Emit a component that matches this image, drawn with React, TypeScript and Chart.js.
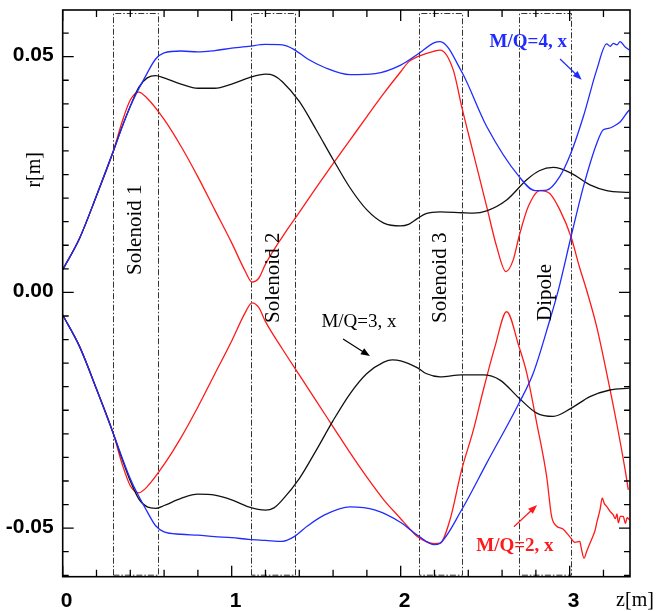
import { useEffect, useRef } from 'react';
import { Chart, registerables } from 'chart.js';

Chart.register(...registerables);

// ---------- data (z in m, r in m) ----------
const zBlueUp = [0, 0.1, 0.2, 0.3, 0.4, 0.5, 0.55, 0.6, 0.7, 0.8, 0.9, 1.0, 1.1, 1.2, 1.3, 1.37, 1.45, 1.55, 1.7, 1.85, 2.0, 2.1, 2.2, 2.233, 2.361, 2.509, 2.7, 2.795, 2.864, 2.942, 3.007, 3.081, 3.16, 3.219, 3.24, 3.258, 3.28, 3.298, 3.327, 3.353];
const rBlueUp = [0.0048, 0.0115, 0.0205, 0.03, 0.0395, 0.0465, 0.0495, 0.0508, 0.0512, 0.051, 0.0513, 0.0518, 0.0522, 0.0526, 0.0525, 0.0515, 0.0495, 0.0477, 0.0462, 0.0464, 0.0482, 0.0505, 0.053, 0.0532, 0.0468, 0.0352, 0.0246, 0.0216, 0.0217, 0.0246, 0.0295, 0.0373, 0.0472, 0.0527, 0.0522, 0.0528, 0.0525, 0.0532, 0.0521, 0.0514];

const zBlueLo = [0, 0.1, 0.2, 0.3, 0.4, 0.5, 0.55, 0.6, 0.7, 0.8, 0.9, 1.0, 1.1, 1.2, 1.3, 1.37, 1.45, 1.55, 1.7, 1.85, 2.0, 2.1, 2.2, 2.233, 2.361, 2.509, 2.7, 2.785, 2.883, 2.933, 3.008, 3.081, 3.16, 3.199, 3.23, 3.258, 3.3, 3.337, 3.353];
const rBlueLo = [-0.0048, -0.0115, -0.0205, -0.03, -0.0395, -0.0465, -0.0495, -0.0508, -0.0513, -0.0515, -0.0518, -0.052, -0.0524, -0.0526, -0.0528, -0.0518, -0.0495, -0.0472, -0.0455, -0.0462, -0.0488, -0.0515, -0.0535, -0.0532, -0.0461, -0.0362, -0.0235, -0.0171, -0.0058, 0.0005, 0.0118, 0.0224, 0.0316, 0.0345, 0.0348, 0.0352, 0.0362, 0.038, 0.0387];

const zBlackUp = [0, 0.1, 0.2, 0.3, 0.35, 0.4, 0.45, 0.5, 0.55, 0.6, 0.7, 0.8, 0.9, 1.0, 1.1, 1.2, 1.25, 1.3, 1.4, 1.5, 1.6, 1.7, 1.8, 1.9, 2.0, 2.05, 2.1, 2.15, 2.233, 2.361, 2.43, 2.509, 2.627, 2.746, 2.82, 2.903, 3.008, 3.12, 3.219, 3.353];
const rBlackUp = [0.0048, 0.0115, 0.0205, 0.03, 0.035, 0.0395, 0.0435, 0.0455, 0.046, 0.0455, 0.0442, 0.0433, 0.0433, 0.0442, 0.0455, 0.0463, 0.046, 0.0447, 0.0405, 0.0345, 0.0282, 0.0222, 0.0175, 0.0147, 0.0141, 0.0145, 0.0157, 0.0167, 0.0171, 0.0169, 0.0168, 0.0173, 0.0196, 0.0239, 0.0258, 0.0265, 0.0253, 0.0228, 0.0216, 0.0212];

const zBlackLo = [0, 0.1, 0.2, 0.3, 0.35, 0.4, 0.45, 0.5, 0.55, 0.6, 0.7, 0.8, 0.9, 1.0, 1.1, 1.2, 1.25, 1.3, 1.4, 1.5, 1.6, 1.7, 1.8, 1.9, 1.95, 2.0, 2.1, 2.15, 2.233, 2.361, 2.489, 2.588, 2.7, 2.805, 2.903, 3.008, 3.12, 3.238, 3.353];
const rBlackLo = [-0.0048, -0.0115, -0.0205, -0.03, -0.0352, -0.04, -0.0438, -0.0455, -0.0458, -0.0452, -0.0437, -0.0428, -0.043, -0.044, -0.0455, -0.0462, -0.0457, -0.044, -0.0395, -0.0335, -0.0272, -0.0215, -0.0172, -0.0148, -0.0143, -0.0145, -0.016, -0.0172, -0.0179, -0.0175, -0.0175, -0.0186, -0.0224, -0.0256, -0.0263, -0.0246, -0.0221, -0.0207, -0.0203];

const zRedUp = [0, 0.1, 0.2, 0.3, 0.35, 0.4, 0.45, 0.5, 0.6, 0.7, 0.8, 0.9, 1.0, 1.08, 1.12, 1.16, 1.2, 1.3, 1.4, 1.5, 1.6, 1.7, 1.8, 1.9, 2.0, 2.05, 2.1, 2.2, 2.233, 2.311, 2.361, 2.43, 2.509, 2.568, 2.623, 2.666, 2.7, 2.755, 2.824, 2.882, 2.942, 3.008, 3.057, 3.1, 3.16, 3.219, 3.278, 3.328, 3.347];
const rRedUp = [0.0048, 0.0115, 0.0205, 0.03, 0.036, 0.0408, 0.0425, 0.0412, 0.0367, 0.031, 0.0245, 0.0175, 0.0105, 0.0045, 0.0022, 0.003, 0.006, 0.0118, 0.017, 0.0222, 0.0273, 0.0323, 0.0373, 0.0422, 0.0468, 0.049, 0.05, 0.0512, 0.0514, 0.0472, 0.0394, 0.0295, 0.0182, 0.0097, 0.0044, 0.0069, 0.0118, 0.0182, 0.0216, 0.021, 0.0175, 0.0118, 0.0055, 0.0005, -0.0073, -0.0171, -0.0277, -0.0376, -0.0419];

const zRedLo = [0, 0.1, 0.2, 0.3, 0.35, 0.4, 0.45, 0.5, 0.6, 0.7, 0.8, 0.9, 1.0, 1.08, 1.12, 1.16, 1.2, 1.3, 1.4, 1.5, 1.6, 1.7, 1.8, 1.9, 2.0, 2.05, 2.1, 2.2, 2.233, 2.292, 2.361, 2.43, 2.489, 2.558, 2.627, 2.7, 2.746, 2.805, 2.864, 2.893, 2.92, 2.96, 3.0, 3.03, 3.06, 3.07, 3.085, 3.1, 3.12, 3.14, 3.15, 3.16, 3.18, 3.193, 3.205, 3.219, 3.24, 3.258, 3.27, 3.28, 3.288, 3.3, 3.317, 3.33, 3.34, 3.353];
const rRedLo = [-0.0048, -0.0115, -0.0205, -0.03, -0.0362, -0.041, -0.0425, -0.0412, -0.0365, -0.0308, -0.0243, -0.0173, -0.0103, -0.0043, -0.0022, -0.0032, -0.0062, -0.012, -0.0175, -0.023, -0.0285, -0.034, -0.0392, -0.044, -0.048, -0.05, -0.0518, -0.0533, -0.0532, -0.0482, -0.0376, -0.0292, -0.0207, -0.0115, -0.0041, -0.0115, -0.0171, -0.0277, -0.0391, -0.0475, -0.0495, -0.0502, -0.0518, -0.053, -0.0528, -0.0545, -0.0564, -0.055, -0.0532, -0.0515, -0.0505, -0.0489, -0.046, -0.0436, -0.0448, -0.0454, -0.0465, -0.0472, -0.048, -0.047, -0.0489, -0.0475, -0.0475, -0.049, -0.0478, -0.0482];

// boxes (element regions)
const boxNames = ['Solenoid 1', 'Solenoid 2', 'Solenoid 3', 'Dipole'];
const boxStart = [0.3, 1.114, 2.108, 2.7];
const boxEnd = [0.566, 1.375, 2.361, 3.008];
const boxLabelR = [0.0133, 0.0031, 0.0031, 0.0];

// ticks
const xTickValues = [0, 1, 2, 3];
const xTickLabels = ['0', '1', '2', '3'];
const yTickValues = [0.05, 0, -0.05];
const yTickLabels = ['0.05', '0.00', '-0.05'];
const xMinorStep = 0.2;
const yMinorStep = 0.005;

// annotations: text, text pos, arrow from, arrow to
const annTexts = ['M/Q=4, x', 'M/Q=3, x', 'M/Q=2, x'];
const annColors = ['#1f2bff', '#000000', '#ff1a1a'];
const annBold = [true, false, true];
const annZ = [2.755, 1.753, 2.676];
const annR = [0.053, -0.0063, -0.0539];
const arrFromZ = [2.943, 1.659, 2.67];
const arrFromR = [0.0495, -0.0099, -0.0497];
const arrToZ = [3.071, 1.818, 2.807];
const arrToR = [0.0451, -0.0135, -0.0451];

const pts = (z: number[], r: number[]) => z.map((v, i) => ({ x: v, y: r[i] }));

const BLUE = '#1f2bff';
const RED = '#ff1a1a';
const BLACK = '#111111';

export default function App() {
  const ref = useRef<HTMLCanvasElement>(null);

  useEffect(() => {
    const decor = {
      id: 'decor',
      beforeDatasetsDraw(chart: any) {
        const ctx = chart.ctx;
        const xs = chart.scales.x;
        const a = chart.chartArea;
        ctx.save();
        ctx.strokeStyle = '#333';
        ctx.lineWidth = 1;
        ctx.setLineDash([6, 2, 1.5, 2]);
        for (let i = 0; i < boxStart.length; i++) {
          const x0 = Math.round(xs.getPixelForValue(boxStart[i])) + 0.5;
          const x1 = Math.round(xs.getPixelForValue(boxEnd[i])) + 0.5;
          const t = a.top + 3.5;
          const b = a.bottom - 1.5;
          ctx.beginPath();
          ctx.moveTo(x0, b);
          ctx.lineTo(x0, t);
          ctx.lineTo(x1, t);
          ctx.lineTo(x1, b);
          ctx.lineTo(x0, b);
          ctx.stroke();
        }
        ctx.restore();
      },
      afterDatasetsDraw(chart: any) {
        const ctx = chart.ctx;
        const xs = chart.scales.x;
        const ys = chart.scales.y;
        const a = chart.chartArea;
        ctx.save();
        // frame
        ctx.strokeStyle = '#000';
        ctx.lineWidth = 1.6;
        ctx.strokeRect(a.left, a.top, a.right - a.left, a.bottom - a.top);
        // ticks
        ctx.lineWidth = 1.3;
        ctx.beginPath();
        const nx = Math.round(xs.max / xMinorStep);
        for (let k = 0; k <= nx; k++) {
          const v = k * xMinorStep;
          if (v > xs.max) break;
          const major = Math.abs(v - Math.round(v)) < 1e-6;
          const len = major ? 11 : 7;
          const px = xs.getPixelForValue(v);
          ctx.moveTo(px, a.bottom);
          ctx.lineTo(px, a.bottom - len);
          ctx.moveTo(px, a.top);
          ctx.lineTo(px, a.top + len);
        }
        const ny0 = Math.ceil(ys.min / yMinorStep);
        const ny1 = Math.floor(ys.max / yMinorStep);
        for (let k = ny0; k <= ny1; k++) {
          const v = k * yMinorStep;
          const major = k % 10 === 0;
          const len = major ? 11 : 6;
          const py = ys.getPixelForValue(v);
          ctx.moveTo(a.left, py);
          ctx.lineTo(a.left + len, py);
          ctx.moveTo(a.right, py);
          ctx.lineTo(a.right - len, py);
        }
        ctx.stroke();

        // tick labels
        ctx.fillStyle = '#000';
        ctx.font = 'bold 21px "Liberation Sans", Arial, sans-serif';
        ctx.textBaseline = 'middle';
        ctx.textAlign = 'center';
        xTickValues.forEach((v, i) => {
          ctx.fillText(xTickLabels[i], xs.getPixelForValue(v) + 4, a.bottom + 25);
        });
        ctx.textAlign = 'right';
        yTickValues.forEach((v, i) => {
          ctx.fillText(yTickLabels[i], a.left - 9, ys.getPixelForValue(v) - 1);
        });

        // axis titles
        ctx.font = '20px "Liberation Serif", "Times New Roman", serif';
        ctx.textAlign = 'center';
        ctx.fillText('z[m]', a.right + 5, a.bottom + 24);
        ctx.save();
        ctx.translate(35, ys.getPixelForValue(0.026));
        ctx.rotate(-Math.PI / 2);
        ctx.fillText('r[m]', 0, 0);
        ctx.restore();

        // box labels (rotated, reading bottom-to-top)
        ctx.font = '21px "Liberation Serif", "Times New Roman", serif';
        for (let i = 0; i < boxNames.length; i++) {
          const cx = (xs.getPixelForValue(boxStart[i]) + xs.getPixelForValue(boxEnd[i])) / 2;
          const cy = ys.getPixelForValue(boxLabelR[i]);
          ctx.save();
          ctx.translate(cx, cy);
          ctx.rotate(-Math.PI / 2);
          ctx.fillText(boxNames[i], 0, 0);
          ctx.restore();
        }

        // annotations
        for (let i = 0; i < annTexts.length; i++) {
          ctx.fillStyle = annColors[i];
          ctx.strokeStyle = annColors[i];
          ctx.font = (annBold[i] ? 'bold ' : '') + '19px "Liberation Serif", "Times New Roman", serif';
          ctx.textAlign = 'center';
          ctx.fillText(annTexts[i], xs.getPixelForValue(annZ[i]), ys.getPixelForValue(annR[i]));
          const x0 = xs.getPixelForValue(arrFromZ[i]);
          const y0 = ys.getPixelForValue(arrFromR[i]);
          const x1 = xs.getPixelForValue(arrToZ[i]);
          const y1 = ys.getPixelForValue(arrToR[i]);
          const ang = Math.atan2(y1 - y0, x1 - x0);
          const hl = 9;
          const hw = 3.5;
          ctx.lineWidth = 1.2;
          ctx.beginPath();
          ctx.moveTo(x0, y0);
          ctx.lineTo(x1 - Math.cos(ang) * hl * 0.8, y1 - Math.sin(ang) * hl * 0.8);
          ctx.stroke();
          ctx.beginPath();
          ctx.moveTo(x1, y1);
          ctx.lineTo(x1 - Math.cos(ang) * hl - Math.sin(ang) * hw, y1 - Math.sin(ang) * hl + Math.cos(ang) * hw);
          ctx.lineTo(x1 - Math.cos(ang) * hl + Math.sin(ang) * hw, y1 - Math.sin(ang) * hl - Math.cos(ang) * hw);
          ctx.closePath();
          ctx.fill();
        }
        ctx.restore();
      },
    };

    const ds = (data: any, color: string, order: number) => ({
      data,
      borderColor: color,
      borderWidth: 1.3,
      pointRadius: 0,
      fill: false,
      order,
      cubicInterpolationMode: 'monotone' as const,
    });

    const chart = new Chart(ref.current as HTMLCanvasElement, {
      type: 'line',
      data: {
        datasets: [
          ds(pts(zBlueUp, rBlueUp), BLUE, 1),
          ds(pts(zBlueLo, rBlueLo), BLUE, 1),
          ds(pts(zBlackUp, rBlackUp), BLACK, 2),
          ds(pts(zBlackLo, rBlackLo), BLACK, 2),
          ds(pts(zRedUp, rRedUp), RED, 3),
          ds(pts(zRedLo, rRedLo), RED, 3),
        ],
      },
      options: {
        animation: false,
        responsive: false,
        devicePixelRatio: 1,
        layout: { padding: { left: 62.7, right: 27, top: 10, bottom: 34.3 } },
        plugins: { legend: { display: false }, tooltip: { enabled: false } },
        events: [],
        scales: {
          x: { type: 'linear', min: 0, max: 3.357, display: false },
          y: { type: 'linear', min: -0.0603, max: 0.0599, display: false },
        },
      },
      plugins: [decor],
    });
    return () => chart.destroy();
  }, []);

  return (
    <div style={{ position: 'absolute', left: 0, top: 0, width: 657, height: 611, background: '#fff' }}>
      <canvas ref={ref} width={657} height={611} style={{ display: 'block', width: 657, height: 611 }} />
    </div>
  );
}
